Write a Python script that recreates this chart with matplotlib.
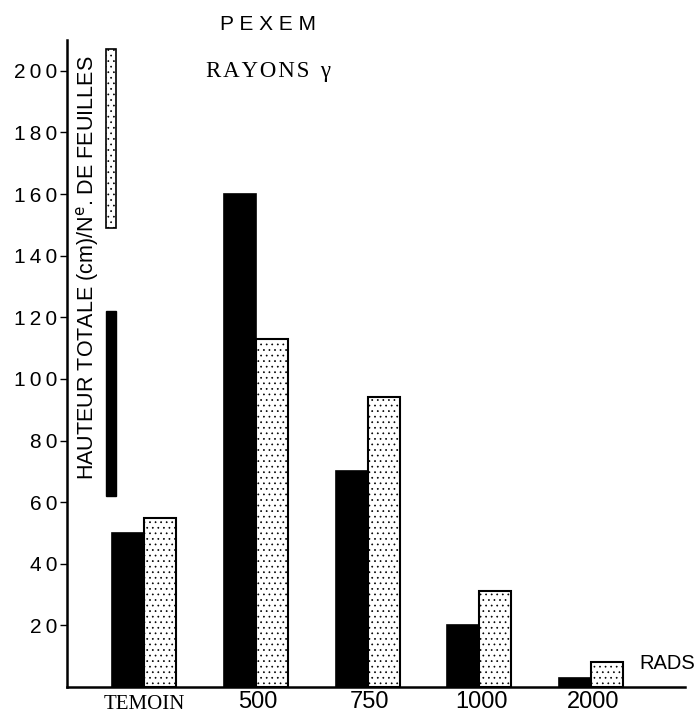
import matplotlib.pyplot as plt
import numpy as np

# donnees
doses = ['TEMOIN', '500', '750', '1000', '2000']
hauteur = [50, 160, 70, 20, 3]          # barres noires
feuilles = [55, 113, 94, 31, 8]         # barres pointillees
yticks = [20, 40, 60, 80, 100, 120, 140, 160, 180, 200]

# cles de legende (bas, haut) dessinees dans l'axe
cle_hauteur = [62, 122]
cle_feuilles = [149, 207]

plt.rcParams['hatch.linewidth'] = 0.5
sans = ['Liberation Sans', 'DejaVu Sans']
serif = ['Liberation Serif', 'DejaVu Serif']
ts = '\u2009'  # espace fine pour espacer les lettres
hs = '\u200a'  # espace ultra-fine

fig = plt.figure(figsize=(6.96, 7.13), dpi=100)
ax = fig.add_axes([67 / 696, 26 / 713, 618 / 696, 647 / 713])

x = np.arange(len(doses))
w = 0.286
ax.bar(x - w / 2, hauteur, w, color='black', edgecolor='black', linewidth=1.2)
ax.bar(x + w / 2, feuilles, w, color='white', edgecolor='black',
       linewidth=1.5, hatch='...')

# legende verticale a cote du titre de l'axe
xk = -0.295
ax.bar(xk, cle_hauteur[1] - cle_hauteur[0], 0.09, bottom=cle_hauteur[0],
       color='black', edgecolor='black')
ax.bar(xk, cle_feuilles[1] - cle_feuilles[0], 0.09, bottom=cle_feuilles[0],
       color='white', edgecolor='black', linewidth=1.2, hatch='...')
ax.text(-0.51, 136, 'HAUTEUR TOTALE (cm)/N$^{\\mathrm{e}}$. DE FEUILLES',
        rotation=90, ha='center', va='center', fontsize=15.5, family=sans)

ax.set_xlim(-0.689, 4.84)
ax.set_ylim(0, 210)

ax.spines['top'].set_visible(False)
ax.spines['right'].set_visible(False)
ax.spines['left'].set_linewidth(1.8)
ax.spines['bottom'].set_linewidth(1.8)

ax.set_yticks(yticks)
ax.set_yticklabels([ts.join(str(v)) for v in yticks], fontsize=15,
                   family=sans)
ax.tick_params(axis='y', length=5, width=1, pad=2)
ax.set_xticks([])

# etiquettes des doses
tr = ax.get_xaxis_transform()
for i, d in enumerate(doses):
    if d == 'TEMOIN':
        ax.text(x[i], -0.012, d, transform=tr, ha='center', va='top',
                fontsize=15, family=serif, clip_on=False)
    else:
        ax.text(x[i] + 0.02, -0.006, d, transform=tr, ha='center', va='top',
                fontsize=17, family=sans, clip_on=False)
ax.text(4.43, 7.5, 'RADS', ha='left', va='center', fontsize=14.5, family=sans)

fig.text(268 / 696, 1 - 25 / 713, 'P E X E M', ha='center', va='center',
         fontsize=15, family=sans)
fig.text(269 / 696, 1 - 72 / 713, hs.join('RAYONS') + '  γ', ha='center',
         va='center', fontsize=16.5, family=serif)

fig.savefig('out.png', dpi=100)
